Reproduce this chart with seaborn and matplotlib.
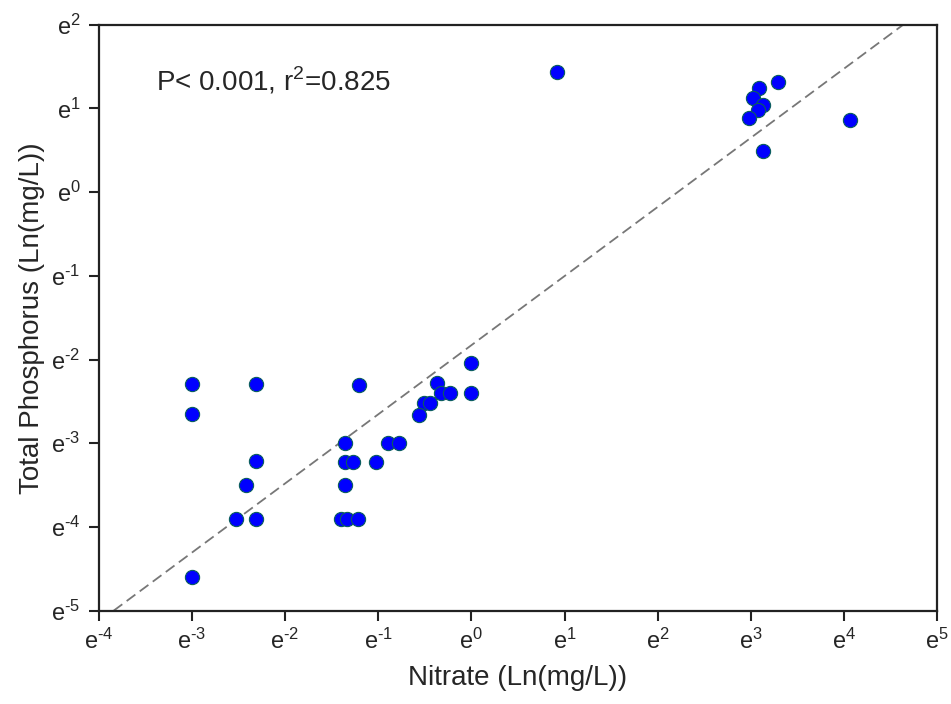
import pandas as pd
import seaborn as sns
import matplotlib.pyplot as plt

# Data (natural log values)
nitrate_ln = [-3.0, -2.31, -3.0, -2.31, -2.42, -2.53, -2.31, -3.0,
              0.0, 0.0, -1.21, -0.37, -0.33, -0.23, -0.51, -0.445, -0.56,
              -1.355, -0.90, -0.78, -1.355, -1.27, -1.025, -1.355,
              -1.40, -1.34, -1.215,
              0.92, 3.085, 3.295, 3.025, 3.13, 3.075, 2.98, 3.125, 4.065]
phosphorus_ln = [-2.29, -2.29, -2.65, -3.21, -3.50, -3.91, -3.91, -4.60,
                 -2.04, -2.40, -2.30, -2.285, -2.405, -2.405, -2.52, -2.52, -2.66,
                 -2.995, -2.995, -2.995, -3.22, -3.22, -3.22, -3.50,
                 -3.905, -3.905, -3.905,
                 1.43, 1.24, 1.315, 1.12, 1.035, 0.98, 0.88, 0.49, 0.86]

# Regression line
fit_slope = 0.826
fit_intercept = -1.828

x_ticks = [-4, -3, -2, -1, 0, 1, 2, 3, 4, 5]
y_ticks = [-5, -4, -3, -2, -1, 0, 1, 2]

df = pd.DataFrame({'nitrate': nitrate_ln, 'phosphorus': phosphorus_ln})

sns.set_style('ticks')
plt.rcParams['font.family'] = ['Liberation Sans', 'DejaVu Sans']
plt.rcParams['mathtext.fontset'] = 'custom'
plt.rcParams['mathtext.rm'] = 'Liberation Sans'


def exp_label(v):
    # plain hyphen instead of the mathtext minus sign
    s = str(v).replace('-', '\u2010')
    return f'$\\mathregular{{e^{{{s}}}}}$'


fig = plt.figure(figsize=(9.51, 7.04), dpi=100)
ax = fig.add_axes([0.1038, 0.1325, 0.8818, 0.8324])

ax.axline((0, fit_intercept), slope=fit_slope, color='#777777',
          linestyle=(0, (6, 3)), linewidth=1.3, zorder=1)
sns.scatterplot(x='nitrate', y='phosphorus', data=df, ax=ax, s=105,
                color='#0000ff', edgecolor='#0b5e5e', linewidth=0.8, zorder=3)

ax.set_xlim(-4, 5)
ax.set_ylim(-5, 2)
ax.set_xticks(x_ticks)
ax.set_yticks(y_ticks)
ax.set_xticklabels([exp_label(v) for v in x_ticks], fontsize=17)
ax.set_yticklabels([exp_label(v) for v in y_ticks], fontsize=17)
ax.tick_params(direction='out', length=7, width=1.5, color='#222222', pad=6)

for side in ['top', 'right', 'left', 'bottom']:
    ax.spines[side].set_visible(True)
    ax.spines[side].set_linewidth(1.6)
    ax.spines[side].set_color('#222222')

ax.set_xlabel('Nitrate (Ln(mg/L))', fontsize=20, labelpad=8)
ax.set_ylabel('Total Phosphorus (Ln(mg/L))', fontsize=20, labelpad=4)

ax.text(0.068, 0.905, 'P< 0.001, r$^{\\mathregular{2}}$=0.825', transform=ax.transAxes,
        fontsize=20, ha='left', va='center')

plt.savefig('out.png', dpi=100)
plt.close()
